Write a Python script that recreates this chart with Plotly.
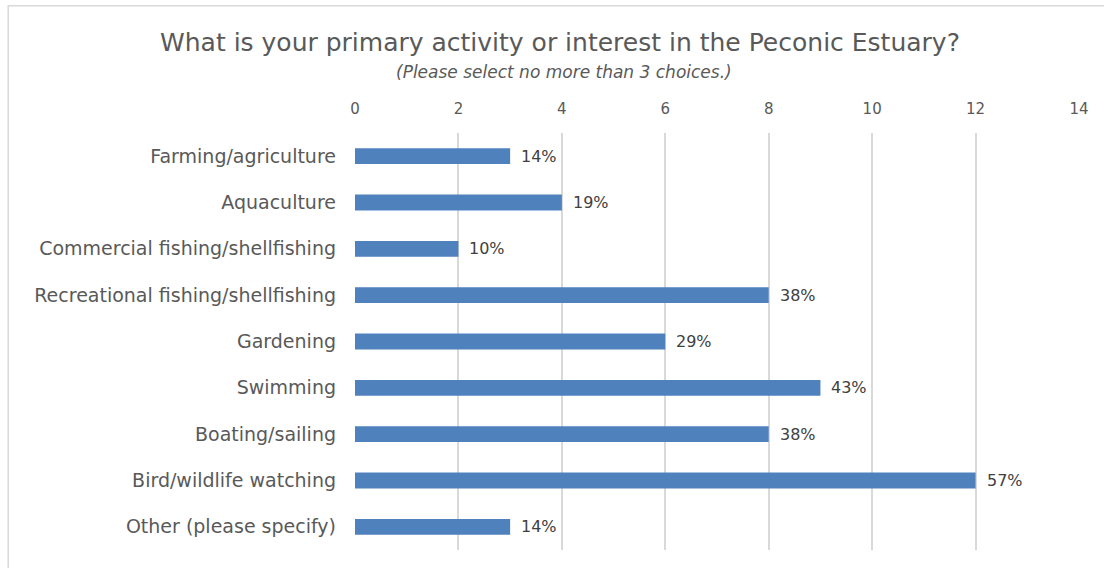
import plotly.graph_objects as go

# Survey responses (counts) and share of respondents
categories = [
    "Farming/agriculture",
    "Aquaculture",
    "Commercial fishing/shellfishing",
    "Recreational fishing/shellfishing",
    "Gardening",
    "Swimming",
    "Boating/sailing",
    "Bird/wildlife watching",
    "Other (please specify)",
]
counts = [3, 4, 2, 8, 6, 9, 8, 12, 3]
percent_labels = ["14%", "19%", "10%", "38%", "29%", "43%", "38%", "57%", "14%"]
x_ticks = [0, 2, 4, 6, 8, 10, 12, 14]

FONT = "DejaVu Sans, Liberation Sans, Arial, sans-serif"
TEXT_GRAY = "#595959"

fig = go.Figure(
    go.Bar(
        x=counts,
        y=categories,
        orientation="h",
        marker=dict(color="#4f81bd", line=dict(width=0)),
        width=0.34,
        hoverinfo="skip",
    )
)

# Percentage labels to the right of each bar
for c, v, lab in zip(categories, counts, percent_labels):
    fig.add_annotation(
        x=v, y=c, xref="x", yref="y", text=lab, showarrow=False,
        xanchor="left", yanchor="middle", xshift=9,
        font=dict(family=FONT, size=16, color="#404040"),
    )

# Title and subtitle
fig.add_annotation(
    x=0.283, y=1.218, xref="paper", yref="paper", showarrow=False,
    text="What is your primary activity or interest in the Peconic Estuary?",
    xanchor="center", yanchor="middle",
    font=dict(family=FONT, size=25, color=TEXT_GRAY),
)
fig.add_annotation(
    x=0.288, y=1.146, xref="paper", yref="paper", showarrow=False,
    text="<i>(Please select no more than 3 choices.)</i>",
    xanchor="center", yanchor="middle",
    font=dict(family=FONT, size=17, color=TEXT_GRAY),
)

# Outer chart frame
fig.add_shape(
    type="rect", xref="paper", yref="paper",
    x0=-0.479, x1=1.1, y0=-0.2, y1=1.305,
    line=dict(color="#d9d9d9", width=1.5), fillcolor="rgba(0,0,0,0)",
    layer="below",
)

fig.update_layout(
    width=1104,
    height=568,
    margin=dict(l=355, r=25, t=133, b=18),
    paper_bgcolor="white",
    plot_bgcolor="white",
    showlegend=False,
    xaxis=dict(
        range=[0, 14],
        tickvals=x_ticks,
        side="top",
        showgrid=True,
        gridcolor="#d9d9d9",
        gridwidth=1.5,
        zeroline=False,
        showline=False,
        ticks="",
        ticklabelstandoff=15,
        tickfont=dict(family=FONT, size=15, color=TEXT_GRAY),
        fixedrange=True,
    ),
    yaxis=dict(
        autorange="reversed",
        showgrid=False,
        zeroline=False,
        showline=False,
        ticks="",
        ticklabelstandoff=18,
        tickfont=dict(family=FONT, size=19, color=TEXT_GRAY),
        fixedrange=True,
    ),
)

fig.write_html("out.html")
